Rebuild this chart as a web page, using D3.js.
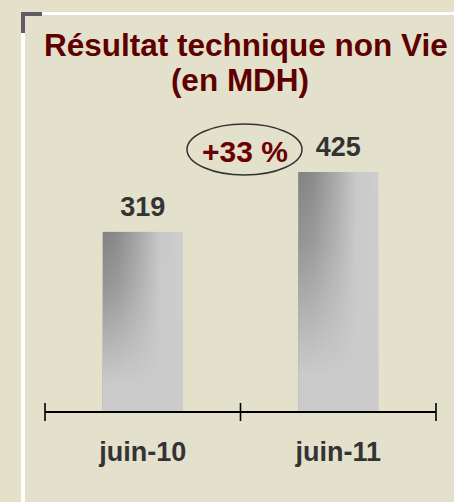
<!DOCTYPE html>
<html lang="fr">
<head>
  <meta charset="UTF-8">
  <title>Résultat technique non Vie</title>
  <script src="https://d3js.org/d3.v7.min.js"></script>
  <style>
    html, body { margin: 0; padding: 0; background: #e5e0c9; }
    svg { display: block; font-family: "Liberation Sans", Arial, sans-serif; }
  </style>
</head>
<body>
  <svg width="454" height="502"></svg>
  <script>
    const categories = ["juin-10", "juin-11"];
    const values = [319, 425];
    const titleLines = ["Résultat technique non Vie", "(en MDH)"];
    const growthLabel = "+33 %";

    const svg = d3.select("svg");
    const W = 454, H = 502;

    // backdrop + framed panel
    svg.append("rect").attr("width", W).attr("height", H).attr("fill", "#e5e0c9");
    svg.append("rect").attr("x", 25).attr("y", 15).attr("width", W - 25).attr("height", H - 15)
      .attr("fill", "#e3e0cc");
    svg.append("rect").attr("x", 42).attr("y", 12).attr("width", W - 42).attr("height", 3).attr("fill", "#ffffff");
    svg.append("rect").attr("x", 21).attr("y", 33).attr("width", 4).attr("height", H - 33).attr("fill", "#ffffff");
    svg.append("path").attr("d", "M21,12H42V16H25V33H21Z").attr("fill", "#605c66");

    // gradients for bars
    const defs = svg.append("defs");
    const hg = defs.append("linearGradient").attr("id", "barH")
      .attr("x1", 0).attr("y1", 0).attr("x2", 1).attr("y2", 0);
    [[0, "#828282"], [0.18, "#8a8a8a"], [0.5, "#adadad"], [0.72, "#c9c9c9"], [1, "#cecece"]]
      .forEach(([o, c]) => hg.append("stop").attr("offset", o).attr("stop-color", c));
    const vg = defs.append("linearGradient").attr("id", "barV")
      .attr("x1", 0).attr("y1", 0).attr("x2", 0).attr("y2", 1);
    [[0, 0], [0.3, 0.25], [0.85, 1], [1, 1]]
      .forEach(([o, a]) => vg.append("stop").attr("offset", o).attr("stop-color", "#cbcbcb").attr("stop-opacity", a));

    const x = d3.scaleBand().domain(categories).range([45, 436]);
    const y = d3.scaleLinear().domain([0, 425]).range([412, 172]);
    const barW = x.bandwidth() * 0.41;
    const barX = d => x(d) + (x.bandwidth() - barW) / 2;

    const data = categories.map((c, i) => ({ cat: c, value: values[i] }));

    const bars = svg.append("g");
    ["url(#barH)", "url(#barV)"].forEach(fill => {
      bars.selectAll(null).data(data).enter().append("rect")
        .attr("x", d => barX(d.cat))
        .attr("y", d => y(d.value))
        .attr("width", barW)
        .attr("height", d => y(0) - y(d.value))
        .attr("fill", fill);
    });

    // axis line with ticks at slot edges
    const axis = svg.append("g").attr("transform", `translate(0,${y(0)})`);
    axis.append("line").attr("x1", x.range()[0]).attr("x2", x.range()[1])
      .attr("stroke", "#000").attr("stroke-width", 2);
    const tickXs = categories.map(c => x(c)).concat([x.range()[1]]);
    axis.selectAll(null).data(tickXs).enter().append("line")
      .attr("x1", d => d).attr("x2", d => d).attr("y1", -9).attr("y2", 9)
      .attr("stroke", "#000").attr("stroke-width", 1.6);

    // category labels
    svg.selectAll(null).data(data).enter().append("text")
      .attr("x", d => x(d.cat) + x.bandwidth() / 2)
      .attr("y", 461)
      .attr("text-anchor", "middle")
      .attr("font-size", 27).attr("font-weight", "bold").attr("fill", "#333333")
      .text(d => d.cat);

    // value labels
    svg.selectAll(null).data(data).enter().append("text")
      .attr("x", d => x(d.cat) + x.bandwidth() / 2)
      .attr("y", d => y(d.value) - 16)
      .attr("text-anchor", "middle")
      .attr("font-size", 27).attr("font-weight", "bold").attr("fill", "#333333")
      .text(d => d.value);

    // title
    svg.append("text").attr("x", 44).attr("y", 56)
      .attr("font-size", 31.5).attr("font-weight", "bold").attr("fill", "#5e0000")
      .text(titleLines[0]);
    svg.append("text").attr("x", 240).attr("y", 91).attr("text-anchor", "middle")
      .attr("font-size", 31.5).attr("font-weight", "bold").attr("fill", "#5e0000")
      .text(titleLines[1]);

    // growth badge
    svg.append("ellipse").attr("cx", 244.5).attr("cy", 149.5).attr("rx", 57.5).attr("ry", 25.5)
      .attr("fill", "none").attr("stroke", "#333333").attr("stroke-width", 1.5);
    svg.append("text").attr("x", 245).attr("y", 162).attr("text-anchor", "middle")
      .attr("font-size", 30).attr("font-weight", "bold").attr("fill", "#6a0000")
      .text(growthLabel);
  </script>
</body>
</html>
